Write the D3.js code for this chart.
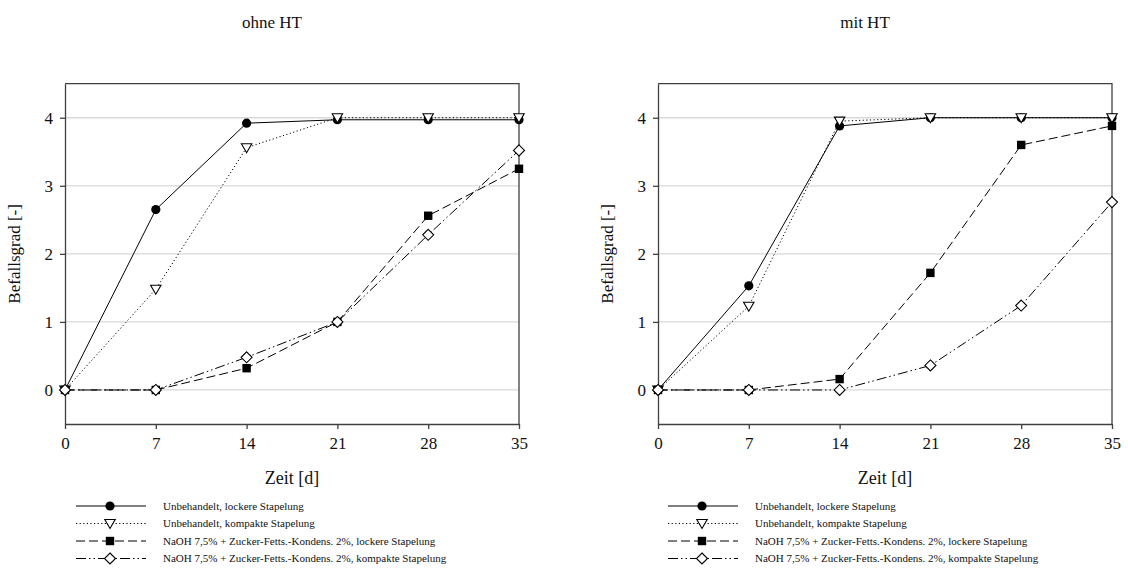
<!DOCTYPE html>
<html>
<head>
<meta charset="utf-8">
<script src="https://cdn.jsdelivr.net/npm/d3@7"></script>
<style>
  body { margin: 0; background: #fff; }
  svg { font-family: "Liberation Serif", serif; }
  text { font-family: "Liberation Serif", serif; fill: #111; }
  .grid line { stroke: #d9d9d9; stroke-width: 1.3; }
  .axis path, .axis line { stroke: #404040; stroke-width: 1.3; }
  .axis text { font-size: 17px; }
</style>
</head>
<body>
<div id="chartHolder"></div>
<script>
// Zeit in Tagen
const days = [0, 7, 14, 21, 28, 35];
const yTicks = [0, 1, 2, 3, 4];

const seriesNames = [
  "Unbehandelt, lockere Stapelung",
  "Unbehandelt, kompakte Stapelung",
  "NaOH 7,5% + Zucker-Fetts.-Kondens. 2%, lockere Stapelung",
  "NaOH 7,5% + Zucker-Fetts.-Kondens. 2%, kompakte Stapelung"
];

// ohne HT
const ohneLocker      = [0, 2.65, 3.92, 3.97, 3.97, 3.97];
const ohneKompakt     = [0, 1.48, 3.56, 4.0, 4.0, 4.0];
const ohneNaohLocker  = [0, 0, 0.32, 1.0, 2.56, 3.25];
const ohneNaohKompakt = [0, 0, 0.48, 1.0, 2.28, 3.52];

// mit HT
const mitLocker      = [0, 1.53, 3.88, 4.0, 4.0, 4.0];
const mitKompakt     = [0, 1.23, 3.95, 4.0, 4.0, 4.0];
const mitNaohLocker  = [0, 0, 0.16, 1.72, 3.6, 3.88];
const mitNaohKompakt = [0, 0, 0, 0.36, 1.24, 2.76];

const w = 1128, h = 569;

// line + marker style per series
const styles = [
  { dash: null,              marker: "circle" },
  { dash: "1.2,2.4",         marker: "triangle" },
  { dash: "9,4",             marker: "square" },
  { dash: "10,3,1.5,3,1.5,3", marker: "diamond" }
];

const svg = d3.select("#chartHolder")
  .append("svg")
  .attr("width", w)
  .attr("height", h);

function drawMarker(g, type, x, y) {
  if (type == "circle") {
    g.append("circle").attr("cx", x).attr("cy", y).attr("r", 4.6).attr("fill", "#000");
  } else if (type == "square") {
    g.append("rect").attr("x", x - 4.2).attr("y", y - 4.2).attr("width", 8.4).attr("height", 8.4).attr("fill", "#000");
  } else if (type == "triangle") {
    g.append("path")
      .attr("d", "M" + (x - 5.2) + "," + (y - 4) + "L" + (x + 5.2) + "," + (y - 4) + "L" + x + "," + (y + 5) + "Z")
      .attr("fill", "#fff").attr("stroke", "#000").attr("stroke-width", 1.1);
  } else {
    g.append("path")
      .attr("d", "M" + x + "," + (y - 5.5) + "L" + (x + 5.5) + "," + y + "L" + x + "," + (y + 5.5) + "L" + (x - 5.5) + "," + y + "Z")
      .attr("fill", "#fff").attr("stroke", "#000").attr("stroke-width", 1.1);
  }
}

function panel(cfg) {
  const xScale = d3.scaleLinear().domain([0, 35]).range([cfg.left, cfg.right]);
  const yScale = d3.scaleLinear().domain([-0.5, 4.5]).range([424, 83.7]);

  const g = svg.append("g");

  // gridlines
  g.append("g").attr("class", "grid")
    .selectAll("line")
    .data(yTicks)
    .enter()
    .append("line")
    .attr("x1", cfg.left).attr("x2", cfg.right)
    .attr("y1", (d) => yScale(d)).attr("y2", (d) => yScale(d));

  // frame top / right
  g.append("path")
    .attr("d", "M" + cfg.left + "," + yScale(4.5) + "H" + cfg.right + "V" + yScale(-0.5))
    .attr("fill", "none").attr("stroke", "#404040").attr("stroke-width", 1.3);

  const xAxis = d3.axisBottom(xScale).tickValues(days).tickSize(5).tickSizeOuter(0).tickPadding(8)
    .tickFormat(d3.format("d"));
  g.append("g").attr("class", "axis")
    .attr("transform", "translate(0," + yScale(-0.5) + ")")
    .call(xAxis)
    .attr("font-family", null).attr("font-size", null);

  const yAxis = d3.axisLeft(yScale).tickValues(yTicks).tickSize(5).tickSizeOuter(0).tickPadding(7)
    .tickFormat(d3.format("d"));
  g.append("g").attr("class", "axis")
    .attr("transform", "translate(" + cfg.left + ",0)")
    .call(yAxis)
    .attr("font-family", null).attr("font-size", null);

  // titles
  g.append("text").attr("x", cfg.titleX).attr("y", 28)
    .attr("text-anchor", "middle").style("font-size", "17px").text(cfg.title);

  g.append("text").attr("x", (cfg.left + cfg.right) / 2).attr("y", 484)
    .attr("text-anchor", "middle").style("font-size", "18px").text("Zeit [d]");

  g.append("text")
    .attr("text-anchor", "middle")
    .attr("transform", "translate(" + (cfg.left - 45) + "," + yScale(2) + ")rotate(-90)")
    .style("font-size", "17px")
    .text("Befallsgrad [-]");

  // series
  const line = d3.line().x((d, i) => xScale(days[i])).y((d) => yScale(d));
  cfg.data.forEach((vals, k) => {
    g.append("path")
      .attr("d", line(vals))
      .attr("fill", "none")
      .attr("stroke", "#000")
      .attr("stroke-width", 1)
      .attr("stroke-dasharray", styles[k].dash);
  });
  cfg.data.forEach((vals, k) => {
    const mg = g.append("g");
    vals.forEach((v, i) => drawMarker(mg, styles[k].marker, xScale(days[i]), yScale(v)));
  });

  // legend
  const legend = g.selectAll(".legend")
    .data(seriesNames)
    .enter()
    .append("g")
    .attr("transform", (d, i) => "translate(0," + (506 + i * 17.5) + ")");

  legend.append("line")
    .attr("x1", cfg.legX).attr("x2", cfg.legX + 70)
    .attr("y1", 0).attr("y2", 0)
    .attr("stroke", "#000").attr("stroke-width", 1)
    .attr("stroke-dasharray", (d, i) => styles[i].dash);

  legend.each(function (d, i) {
    drawMarker(d3.select(this), styles[i].marker, cfg.legX + 34, 0);
  });

  legend.append("text")
    .attr("x", cfg.legX + 87)
    .attr("y", 0)
    .attr("dy", ".35em")
    .style("font-family", "'Liberation Serif', serif")
    .style("font-size", "11px")
    .text((d) => d);
}

panel({
  left: 65, right: 519, titleX: 272, legX: 76, title: "ohne HT",
  data: [ohneLocker, ohneKompakt, ohneNaohLocker, ohneNaohKompakt]
});
panel({
  left: 658, right: 1112, titleX: 865, legX: 668, title: "mit HT",
  data: [mitLocker, mitKompakt, mitNaohLocker, mitNaohKompakt]
});
</script>
</body>
</html>
